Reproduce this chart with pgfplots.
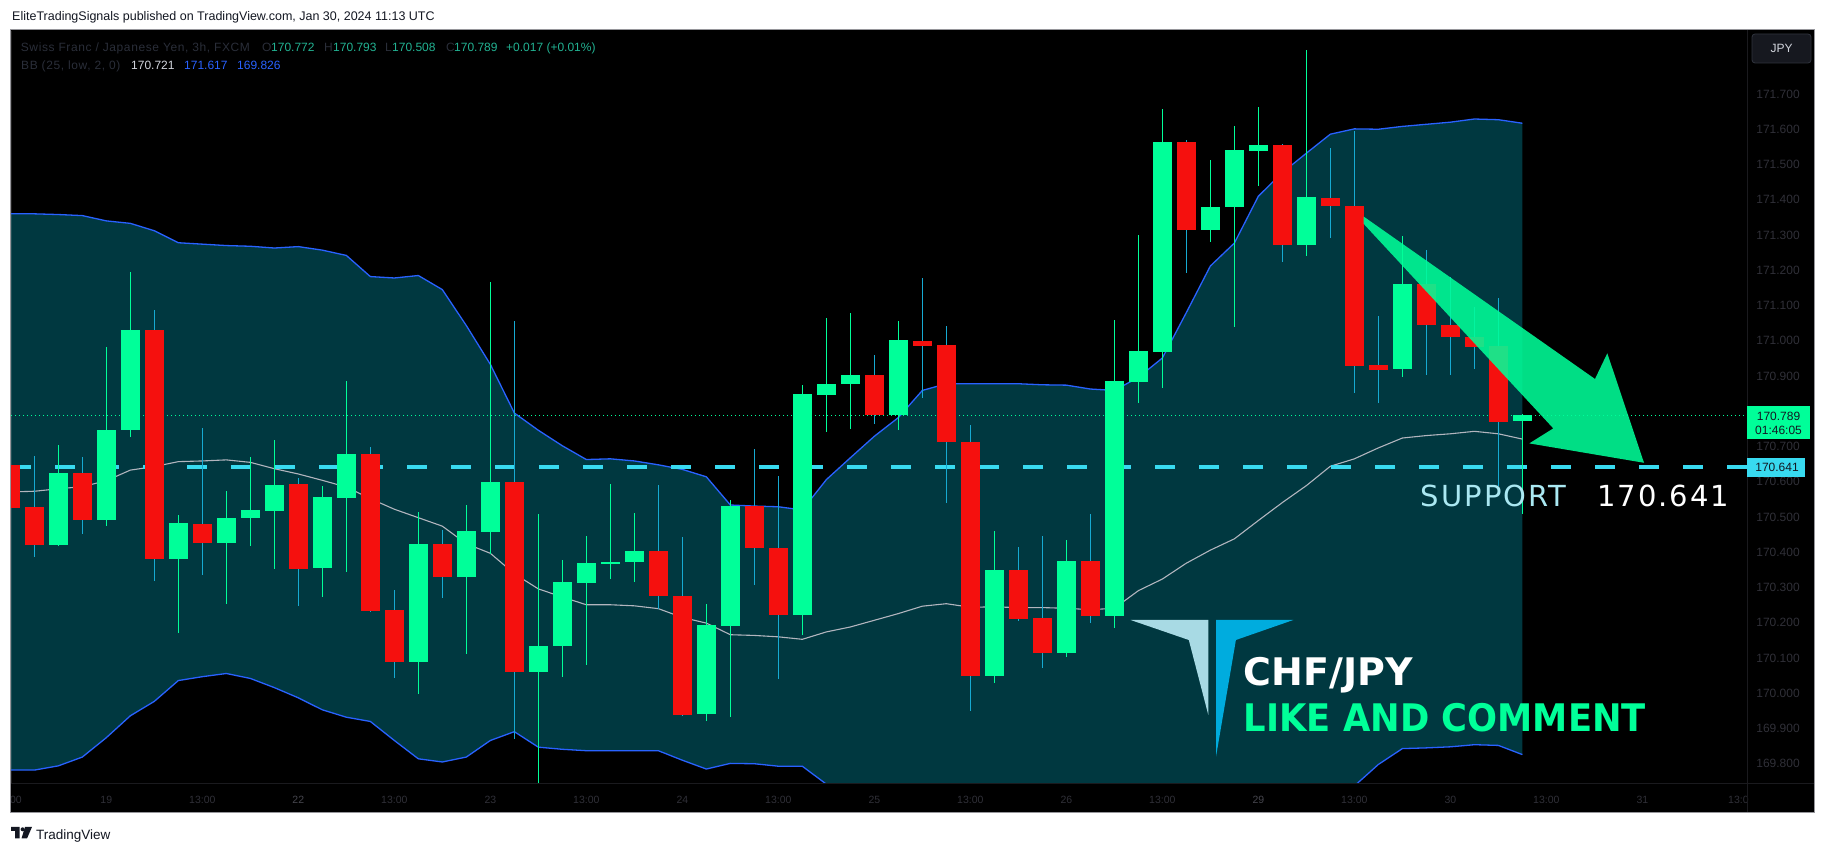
\documentclass[border=0pt]{standalone}
\usepackage{fontspec}
\setmainfont{Liberation Sans}
\newfontfamily\legfont[LetterSpace=5]{Liberation Sans}
\newfontfamily\dejavu{DejaVu Sans}
\newfontfamily\supfont[LetterSpace=7]{DejaVu Sans}
\usepackage{pgfplots}
\usepackage{pgfplotstable}
\usepgfplotslibrary{fillbetween}
\pgfplotsset{compat=1.18}

% colours
\definecolor{cgreen}{RGB}{0,255,153}
\definecolor{cred}{RGB}{245,16,14}
\definecolor{rwick}{RGB}{22,170,210}
\definecolor{bbfill}{RGB}{0,56,64}
\definecolor{bbline}{RGB}{41,98,255}
\definecolor{bbmid}{RGB}{178,181,190}
\definecolor{supcyan}{RGB}{56,218,240}
\definecolor{suptxt}{RGB}{170,232,242}
\definecolor{dimtxt}{RGB}{42,46,57}
\definecolor{legval}{RGB}{34,178,146}
\definecolor{axtxt}{RGB}{48,48,56}
\definecolor{daytxt}{RGB}{70,70,78}
\definecolor{tvdark}{RGB}{19,23,34}
\definecolor{logolight}{RGB}{168,218,228}
\definecolor{logoblue}{RGB}{0,172,222}
\definecolor{panelgray}{RGB}{150,150,155}
\definecolor{sepcol}{RGB}{26,26,30}
\definecolor{btnfill}{RGB}{22,24,31}
\definecolor{btnedge}{RGB}{48,52,62}

% 3h candles, CHF/JPY (FXCM); i = bar number from the left edge
\pgfplotstableread{
i o h l c
2 170.421 170.705 170.418 170.625
4 170.493 170.985 170.476 170.747
5 170.746 171.196 170.728 171.031
7 170.383 170.507 170.170 170.483
9 170.428 170.574 170.255 170.497
10 170.496 170.670 170.419 170.520
11 170.519 170.718 170.354 170.593
13 170.354 170.588 170.274 170.558
14 170.555 170.886 170.346 170.679
17 170.090 170.516 169.997 170.424
19 170.331 170.534 170.111 170.460
20 170.459 171.169 170.397 170.599
22 170.060 170.509 169.746 170.135
23 170.134 170.379 170.045 170.315
24 170.314 170.446 170.080 170.369
25 170.368 170.596 170.324 170.374
26 170.373 170.511 170.317 170.404
29 169.941 170.254 169.922 170.193
30 170.190 170.548 169.932 170.531
33 170.222 170.875 170.166 170.849
34 170.848 171.065 170.743 170.878
35 170.876 171.081 170.751 170.903
37 170.789 171.057 170.747 171.002
41 170.050 170.460 170.028 170.350
44 170.116 170.435 170.104 170.375
46 170.221 171.059 170.186 170.886
47 170.885 171.300 170.824 170.971
48 170.970 171.658 170.868 171.564
50 171.315 171.513 171.279 171.382
51 171.381 171.609 171.040 171.541
52 171.539 171.663 171.439 171.556
54 171.272 171.825 171.242 171.407
58 170.919 171.297 170.897 171.162
63 170.772 170.793 170.508 170.789
}\upbars

\pgfplotstableread{
i o h l c
0 170.648 170.680 170.480 170.527
1 170.529 170.673 170.387 170.421
3 170.625 170.673 170.452 170.493
6 171.031 171.087 170.320 170.383
8 170.483 170.753 170.337 170.428
12 170.593 170.610 170.247 170.354
15 170.679 170.698 170.230 170.234
16 170.236 170.294 170.042 170.090
18 170.424 170.465 170.272 170.331
21 170.599 171.057 169.871 170.060
27 170.404 170.593 170.239 170.277
28 170.278 170.443 169.936 169.941
31 170.531 170.694 170.307 170.413
32 170.414 170.617 170.039 170.222
36 170.903 170.960 170.765 170.789
38 171.002 171.178 170.837 170.987
39 170.988 171.042 170.541 170.712
40 170.713 170.761 169.951 170.050
42 170.350 170.417 170.207 170.212
43 170.214 170.446 170.074 170.116
45 170.375 170.508 170.201 170.221
49 171.564 171.571 171.194 171.315
53 171.556 171.560 171.224 171.272
55 171.407 171.548 171.293 171.384
56 171.385 171.596 170.853 170.930
57 170.931 171.070 170.822 170.919
59 171.162 171.257 170.904 171.046
60 171.047 171.180 170.904 171.011
61 171.011 171.096 170.922 170.984
62 170.985 171.121 170.589 170.771
}\downbars

% Bollinger bands (25, low, 2, 0)
\pgfplotstableread{
i up mid lo
0 171.360 170.571 169.782
1 171.360 170.573 169.782
2 171.358 170.580 169.794
3 171.355 170.586 169.819
4 171.340 170.603 169.874
5 171.333 170.633 169.936
6 171.312 170.643 169.977
7 171.278 170.657 170.036
8 171.274 170.659 170.047
9 171.270 170.662 170.056
10 171.268 170.655 170.042
11 171.263 170.637 170.016
12 171.267 170.622 169.987
13 171.257 170.604 169.953
14 171.242 170.585 169.932
15 171.182 170.552 169.920
16 171.178 170.522 169.866
17 171.185 170.498 169.814
18 171.145 170.474 169.805
19 171.043 170.424 169.819
20 170.933 170.397 169.866
21 170.795 170.339 169.891
22 170.746 170.296 169.847
23 170.702 170.273 169.841
24 170.663 170.251 169.837
25 170.665 170.251 169.837
26 170.659 170.248 169.837
27 170.648 170.240 169.837
28 170.635 170.215 169.810
29 170.614 170.199 169.785
30 170.534 170.166 169.801
31 170.531 170.164 169.800
32 170.529 170.160 169.793
33 170.520 170.153 169.793
34 170.606 170.174 169.742
35 170.668 170.188 169.708
36 170.729 170.207 169.684
37 170.782 170.226 169.671
38 170.859 170.247 169.635
39 170.878 170.254 169.629
40 170.878 170.244 169.610
41 170.878 170.245 169.613
42 170.878 170.243 169.607
43 170.875 170.243 169.610
44 170.874 170.241 169.609
45 170.863 170.237 169.612
46 170.859 170.241 169.624
47 170.896 170.291 169.686
48 170.951 170.324 169.697
49 171.080 170.369 169.658
50 171.212 170.406 169.601
51 171.277 170.438 169.599
52 171.410 170.490 169.570
53 171.477 170.541 169.605
54 171.532 170.589 169.646
55 171.586 170.644 169.698
56 171.601 170.665 169.737
57 171.600 170.696 169.798
58 171.608 170.724 169.843
59 171.614 170.731 169.845
60 171.620 170.736 169.848
61 171.629 170.743 169.854
62 171.627 170.736 169.852
63 171.617 170.721 169.826
}\bb

\pgfplotsset{
  wick/.style={draw=none, mark=none, forget plot,
    error bars/y dir=both, error bars/y explicit, error bars/error mark=none,
    error bars/error bar style={line width=1.2pt, draw=#1}},
  body/.style={draw=none, mark=none, forget plot,
    error bars/y dir=both, error bars/y explicit, error bars/error mark=none,
    error bars/error bar style={line width=18.7pt, draw=#1}},
}

\begin{document}
\begin{tikzpicture}
% page around the panel (kept off the plot area so the band fill stays visible)
\fill[white, even odd rule] (0,0) rectangle (1826pt,853pt) (11pt,41pt) rectangle (1814pt,823pt);
% price scale column and time scale strip
\fill[black] (1747pt,41pt) rectangle (1814pt,823pt);
\fill[black] (11pt,41pt) rectangle (1747pt,70pt);
\fill[black] (11pt,822pt) rectangle (1747pt,823pt);

\begin{axis}[
    at={(11pt,70pt)}, anchor=south west,
    scale only axis, width=1736pt, height=752pt,
    xmin=0.028, xmax=72.361,
    ymin=169.7454, ymax=171.8787,
    axis background/.style={fill=black},
    axis line style={draw=none},
    major tick length=0pt,
    tick style={draw=none},
    xtick={4,8,12,16,20,24,28,32,36,40,44,48,52,56,60,64,68,72},
    xticklabels={19,13:00,{\textcolor{daytxt}{22}},13:00,23,13:00,24,13:00,25,13:00,26,13:00,{\textcolor{daytxt}{29}},13:00,30,13:00,31,13:0},
    xticklabel style={anchor=center, yshift=-17pt, text=axtxt, font=\fontsize{10.5}{12}\selectfont},
    ytick={169.8,169.9,170.0,170.1,170.2,170.3,170.4,170.5,170.6,170.7,170.9,171.0,171.1,171.2,171.3,171.4,171.5,171.6,171.7},
    yticklabels={169.800,169.900,170.000,170.100,170.200,170.300,170.400,170.500,170.600,170.700,170.900,171.000,171.100,171.200,171.300,171.400,171.500,171.600,171.700},
    yticklabel pos=right,
    yticklabel style={anchor=center, xshift=31pt, text=axtxt, font=\fontsize{12}{14}\selectfont},
  ]
  % band area
  \addplot[draw=none, name path=bbup, forget plot] table[x=i, y=up] \bb;
  \addplot[draw=none, name path=bblo, forget plot] table[x=i, y=lo] \bb;
  \addplot[bbfill, forget plot] fill between[of=bbup and bblo];
  \addplot[bbline, line width=1.3pt] table[x=i, y=up] \bb;
  \addplot[bbline, line width=1.3pt] table[x=i, y=lo] \bb;
  \addplot[bbmid, line width=1.1pt] table[x=i, y=mid] \bb;

  % last price (dotted) and support level (dashed)
  \addplot[cgreen, line width=0.9pt, dash pattern=on 1pt off 3pt] coordinates {(0.028,170.789) (72.361,170.789)};
  \addplot[supcyan, line width=4pt, dash pattern=on 20pt off 24pt] coordinates {(0.028,170.641) (72.361,170.641)};

  % candles: wicks, then bodies
  \addplot[wick=cgreen] table[x=i, y expr={(\thisrow{h}+\thisrow{l})/2}, y error expr={(\thisrow{h}-\thisrow{l})/2}] \upbars;
  \addplot[wick=rwick] table[x=i, y expr={(\thisrow{h}+\thisrow{l})/2}, y error expr={(\thisrow{h}-\thisrow{l})/2}] \downbars;
  \addplot[body=cgreen] table[x=i, y expr={(\thisrow{o}+\thisrow{c})/2}, y error expr={max(abs(\thisrow{c}-\thisrow{o})/2,0.0025)}] \upbars;
  \addplot[body=cred] table[x=i, y expr={(\thisrow{o}+\thisrow{c})/2}, y error expr={max(abs(\thisrow{c}-\thisrow{o})/2,0.0025)}] \downbars;
\end{axis}

% everything else in screen pixels, y downwards
\begin{scope}[x=1pt, y=-1pt, yshift=853pt]
  % separators of the price and time scales
  \draw[sepcol, line width=1pt] (1747.5,30) -- (1747.5,812);
  \draw[sepcol, line width=1pt] (11,783.5) -- (1814,783.5);
  \node[anchor=center, text=axtxt, font=\fontsize{10.5}{12}\selectfont] at (16,800) {00};

  % arrow
  \fill[cgreen, opacity=0.87] (1363.7,216.6) -- (1595,379) -- (1607.3,353.3) -- (1644,462.8)
     -- (1529.3,443.4) -- (1553.3,428.4) -- (1363.7,223.9) -- cycle;

  % support label
  \node[anchor=base west, inner sep=0, text=suptxt, font=\supfont\fontsize{29}{30}\selectfont] at (1420.7,506.7) {SUPPORT};
  \node[anchor=base west, inner sep=0, text=white, font=\supfont\fontsize{29}{30}\selectfont] at (1597,506.7) {170.641};

  % logo and captions
  \fill[logolight] (1130.6,620) -- (1208.3,620) -- (1208.3,715) -- (1188.8,640) -- cycle;
  \fill[logoblue] (1216,620) -- (1293.3,620) -- (1235.9,640) -- (1216,756.7) -- cycle;
  \node[anchor=base west, inner sep=0, text=white, font=\dejavu\bfseries\fontsize{38}{40}\selectfont] at (1243.5,686) {CHF/JPY};
  \node[anchor=base west, inner sep=0, text=cgreen, xscale=0.93, font=\dejavu\bfseries\fontsize{38}{40}\selectfont] at (1243.5,731.7) {LIKE AND COMMENT};

  % legend lines
  \begin{scope}[every node/.style={anchor=base west, inner sep=0, font=\fontsize{12}{14}\selectfont}]
    \node[text=dimtxt, font=\legfont\fontsize{12}{14}\selectfont] at (20.7,51.5) {Swiss Franc / Japanese Yen, 3h, FXCM};
    \node[text=dimtxt] at (262,51.5) {O};
    \node[text=legval] at (271,51.5) {170.772};
    \node[text=dimtxt] at (324,51.5) {H};
    \node[text=legval] at (333,51.5) {170.793};
    \node[text=dimtxt] at (385,51.5) {L};
    \node[text=legval] at (392,51.5) {170.508};
    \node[text=dimtxt] at (446,51.5) {C};
    \node[text=legval] at (454,51.5) {170.789};
    \node[text=legval] at (506,51.5) {+0.017 (+0.01\%)};
    \node[text=dimtxt, font=\legfont\fontsize{12}{14}\selectfont] at (21,70) {BB (25, low, 2, 0)};
    \node[text={rgb,255:red,209;green,212;blue,220}] at (131,70) {170.721};
    \node[text=bbline] at (184,70) {171.617};
    \node[text=bbline] at (237,70) {169.826};
  \end{scope}

  % price scale boxes
  \fill[cgreen] (1747,406) rectangle (1810,439.3);
  \node[inner sep=0, text=tvdark, font=\fontsize{12}{13}\selectfont] at (1778.5,416) {170.789};
  \node[inner sep=0, text=tvdark, font=\fontsize{12}{13}\selectfont] at (1778.5,430) {01:46:05};
  \fill[supcyan] (1747,457.7) rectangle (1805,476.7);
  \node[inner sep=0, text=tvdark, font=\fontsize{12}{13}\selectfont] at (1777,467.3) {170.641};
  \draw[btnedge, fill=btnfill, rounded corners=3pt, line width=0.8pt] (1752,34) rectangle (1811,63);
  \node[text={rgb,255:red,209;green,212;blue,220}, font=\fontsize{12}{14}\selectfont] at (1781.5,48.5) {JPY};

  % panel frame
  \draw[panelgray, line width=1.2pt] (10.6,29.6) rectangle (1814.4,812.4);

  % page header and footer
  \node[anchor=base west, inner sep=0, text=tvdark, font=\fontsize{12.5}{14}\selectfont] at (12,20.5) {EliteTradingSignals published on TradingView.com, Jan 30, 2024 11:13 UTC};
  \fill[tvdark] (11,827) rectangle (19.5,831) (15,827) rectangle (19.5,838.5);
  \fill[tvdark] (22.6,829.3) circle (2pt);
  \fill[tvdark] (25,827) -- (32,827) -- (27,838.5) -- (21.5,838.5) -- cycle;
  \node[anchor=base west, inner sep=0, text=tvdark, font=\fontsize{13.5}{15}\selectfont] at (36,839.3) {TradingView};
\end{scope}

\pgfresetboundingbox
\path[use as bounding box] (0,0) rectangle (1826pt,853pt);
\end{tikzpicture}
\end{document}
